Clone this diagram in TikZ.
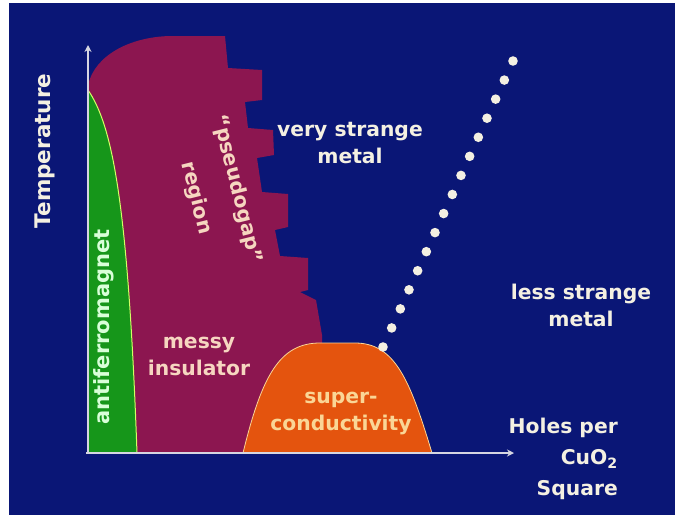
\documentclass[tikz,border=0pt]{standalone}
\usepackage{fontspec}
\setmainfont{DejaVu Sans}
\usetikzlibrary{arrows.meta,calc}

\definecolor{navy}{RGB}{10,22,118}
\definecolor{maroon}{RGB}{140,22,80}
\definecolor{afgreen}{RGB}{22,150,26}
\definecolor{scorange}{RGB}{228,84,14}
\definecolor{axisgray}{RGB}{214,214,226}
\definecolor{cream}{RGB}{244,240,226}
\definecolor{peach}{RGB}{246,214,192}
\definecolor{scpeach}{RGB}{250,214,150}

\begin{document}
\begin{tikzpicture}[x=1pt,y=-1pt]
    \tikzset{label/.style={font=\bfseries\fontsize{20.3}{27}\selectfont, align=center, inner sep=0pt},
      metal/.style={label, text=cream},
      region/.style={label, text=peach},
      axis/.style={axisgray, line width=2pt, -{Stealth[length=7pt,width=7pt]}},
      dot/.style={fill=cream}
    }

    % page and background
    \useasboundingbox (0,0) rectangle (675,515);
    \fill[white] (0,0) rectangle (675,515);
    \fill[navy] (9,3) rectangle (675,515);

    % phase regions
    \fill[maroon] (88,453) -- (88,85) .. controls (95,55) and (130,37) .. (170,36)
      -- (225,36) -- (228,68) -- (262,70) -- (262,100) -- (245,102) -- (248,128)
      -- (273,130) -- (274,155) -- (257,158) -- (262,192) -- (288,194) -- (288,227)
      -- (275,230) -- (280,256) -- (308,258) -- (308,290) -- (300,292) -- (316,300)
      -- (322,335) -- (322,453) -- cycle;
    \filldraw[fill=afgreen, draw=green!30!yellow!60!white, line width=1pt]
      (88,90) .. controls (112,125) and (128,200) .. (137,453) -- (88,453) -- cycle;
    \filldraw[fill=scorange, draw=scpeach, line width=0.8pt]
      (243,453) .. controls (262,375) and (280,343) .. (320,343) -- (355,343)
      .. controls (395,343) and (410,380) .. (432,453) -- cycle;

    % axes
    \coordinate (origin) at (88,453);
    \coordinate (ytip) at (88,45);
    \coordinate (xtip) at (514,453);
    \draw[axis] (86,453) -- (xtip);
    \draw[axis] (origin) -- (ytip);

    % crossover line
    \coordinate (dotlow) at (383,347);
    \coordinate (dothigh) at (513,61);
    \foreach \i in {0,...,15}
      \fill[dot] ($(dotlow)!\i/15!(dothigh)$) circle (4.8);

    % labels
    \node[metal, font=\bfseries\fontsize{21.5}{27}\selectfont, rotate=90] (temp) at (45,151) {Temperature};
    \node[label, text=green!15!white, font=\bfseries\fontsize{21}{27}\selectfont, rotate=90] (afm) at (104,327) {antiferromagnet};
    \node[region, rotate=-76] (pg) at (237,189) {``pseudogap''};
    \node[region, rotate=-76] (pgr) at (196,198) {region};
    \node[region] (messy) at (199,356) {messy\\insulator};
    \node[label, text=scpeach] (sc) at (341,413) {super-\\conductivity};
    \node[metal] (vsm) at (350,143) {very strange\\metal};
    \node[metal] (lsm) at (581,305) {less strange\\metal};
    \node[metal, align=right, anchor=north east, font=\bfseries\fontsize{20.3}{31}\selectfont] (holes) at (618,418) {Holes per\\CuO\textsubscript{2}\\Square};

\end{tikzpicture}
\end{document}
